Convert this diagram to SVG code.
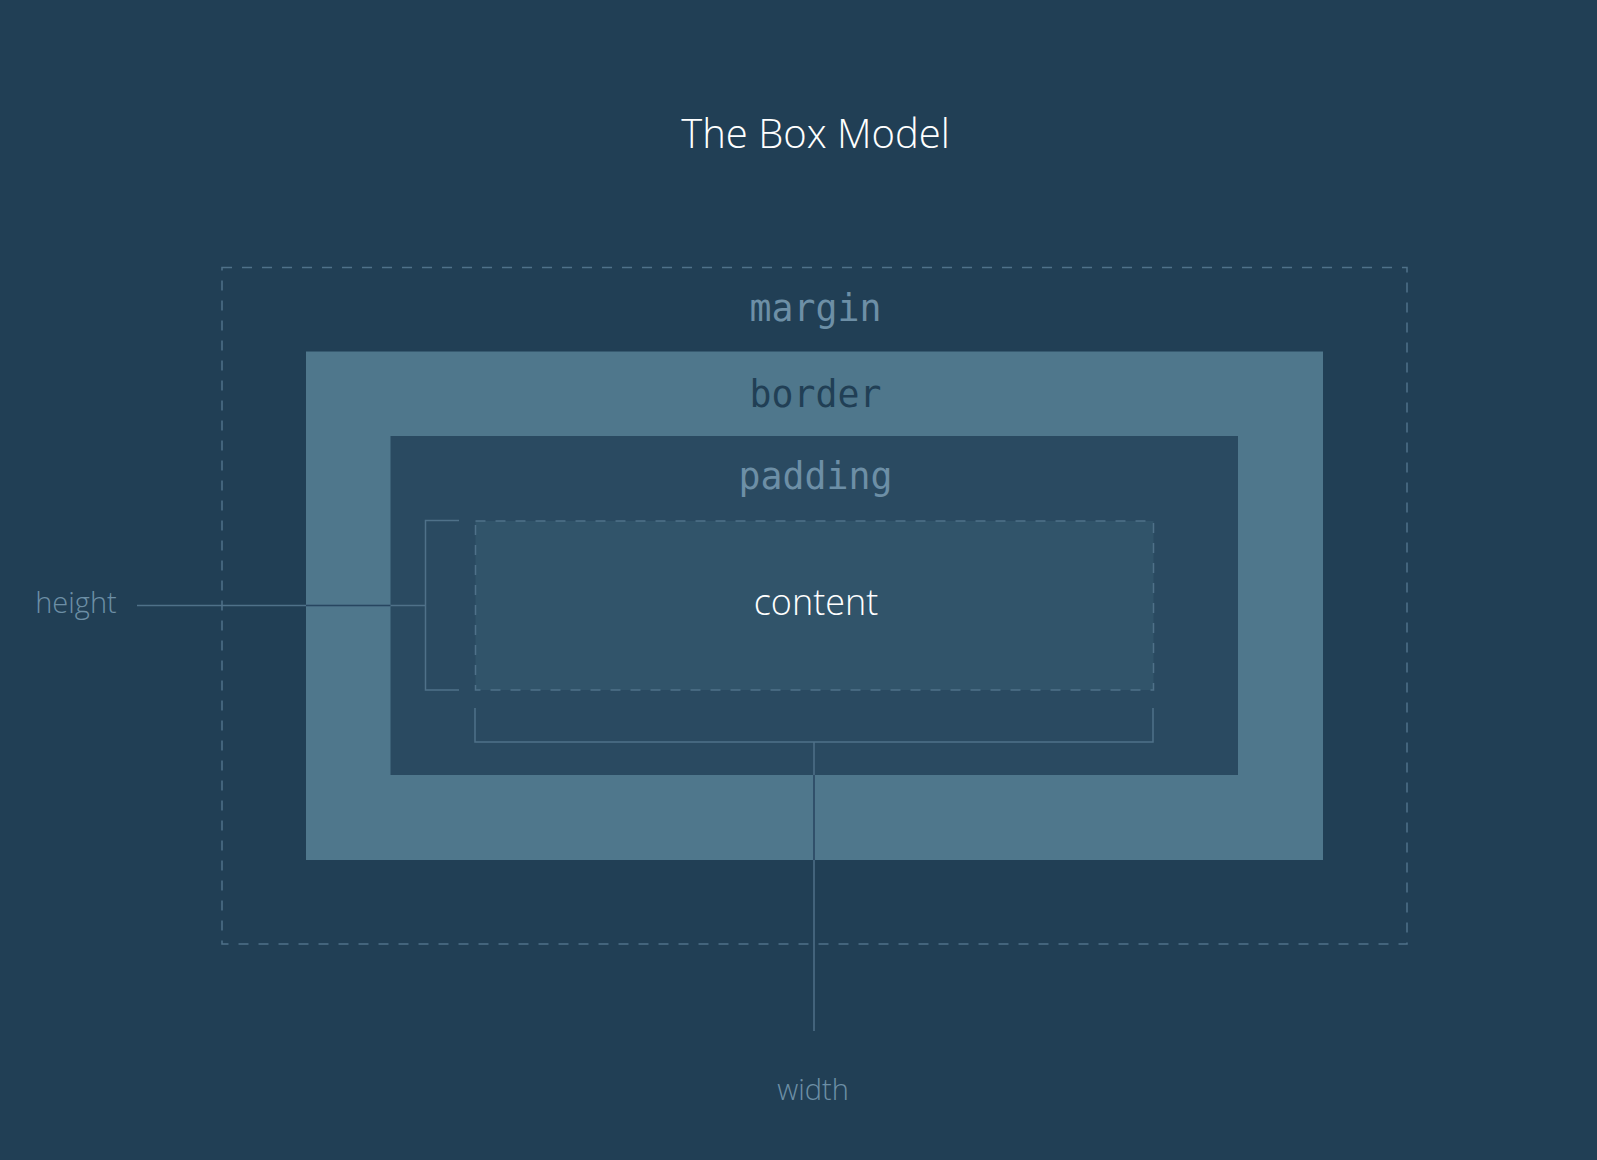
<svg xmlns="http://www.w3.org/2000/svg" width="1597" height="1160" viewBox="0 0 1597 1160">
<style>
.mono{font-family:"DejaVu Sans Mono","Liberation Mono",monospace;font-size:36.5px;text-anchor:middle}
.sans{font-family:"Open Sans","Noto Sans",sans-serif;font-weight:300;text-anchor:middle}
.dash{fill:none;stroke:#4f7189;stroke-width:1.5;stroke-dasharray:10 10}
.ln{fill:none;stroke:#4f7189;stroke-width:1.5}
.lnd{fill:none;stroke:#274660;stroke-width:1.5}
</style>
<rect width="1597" height="1160" fill="#213f55"/>
<g id="title"><text class="sans" x="815.5" y="148" font-size="40" fill="#ffffff">The Box Model</text></g>
<g id="margin">
<rect class="dash" x="222" y="267.5" width="1185" height="676.5"/>
<text class="mono" x="815.5" y="321" fill="#6d8fa6">margin</text>
</g>
<g id="border">
<rect x="306" y="351.5" width="1017" height="508.5" fill="#4f778c"/>
<text class="mono" x="815.5" y="407" fill="#213f55">border</text>
</g>
<g id="padding">
<rect x="390.5" y="436" width="847.5" height="339" fill="#2a4a61"/>
<text class="mono" x="815.5" y="489" fill="#6d8fa6">padding</text>
</g>
<g id="content">
<rect x="475.5" y="521" width="678" height="169" fill="#31546a"/>
<rect class="dash" x="475.5" y="521" width="678" height="169"/>
<text class="sans" x="816" y="615" font-size="36" fill="#ffffff">content</text>
</g>
<g id="height"><text class="sans" x="76" y="613" font-size="29" fill="#6d8fa6">height</text></g>
<g id="width"><text class="sans" x="813" y="1100" font-size="29" fill="#6d8fa6">width</text></g>
<g id="connectors">
<path class="ln" d="M459 520.5H425.5V690H459"/>
<path class="ln" d="M137 605.5H425.5"/>
<path class="lnd" d="M306 605.5H390.5"/>
<path class="ln" d="M475 708V742H1153V708"/>
<path class="ln" d="M814 742V1031"/>
<path class="lnd" d="M814 775V860"/>
</g>
</svg>
